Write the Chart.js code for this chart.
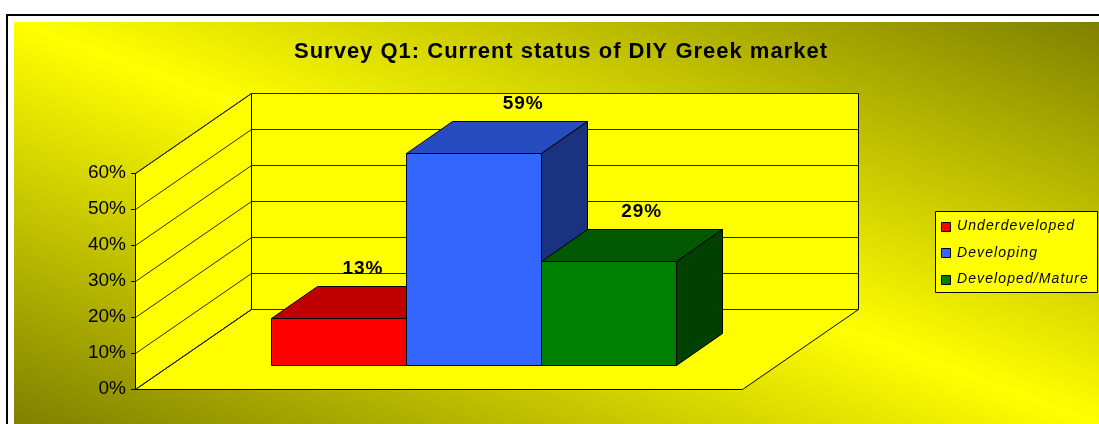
<!DOCTYPE html>
<html>
<head>
<meta charset="utf-8">
<script src="https://cdn.jsdelivr.net/npm/chart.js@4"></script>
<style>
  html, body { margin: 0; padding: 0; background: #fff; }
  canvas { display: block; }
</style>
</head>
<body>
<canvas id="chart" width="1099" height="424"></canvas>
<script>
const chartTitle = 'Survey Q1: Current status of DIY Greek market';
const seriesNames = ['Underdeveloped', 'Developing', 'Developed/Mature'];
const seriesValues = [13, 59, 29];
const yTicks = [0, 10, 20, 30, 40, 50, 60];

const frontColors = ['#FF0000', '#3366FF', '#008000'];
const topColors = ['#C00000', '#264CBF', '#005800'];
const sideColors = ['#800000', '#1A3380', '#004000'];

// offset of the back wall from the front plane, and the depth band the bars occupy
const DEPTH_X = 116, DEPTH_Y = -80;
const BAR_NEAR = 0.3, BAR_FAR = 0.7;

const FONT = '"Liberation Sans", Arial, sans-serif';

function px(v) { return Math.round(v) + 0.5; }

function poly(ctx, pts, fill, stroke) {
  ctx.beginPath();
  ctx.moveTo(pts[0][0], pts[0][1]);
  for (let i = 1; i < pts.length; i++) ctx.lineTo(pts[i][0], pts[i][1]);
  ctx.closePath();
  if (fill) { ctx.fillStyle = fill; ctx.fill(); }
  if (stroke) { ctx.strokeStyle = stroke; ctx.lineWidth = 1; ctx.stroke(); }
}

const scene3d = {
  id: 'scene3d',
  beforeDraw(chart) {
    const ctx = chart.ctx;
    const a = chart.chartArea;
    const yScale = chart.scales.y;
    const W = chart.width, H = chart.height;

    ctx.save();
    ctx.fillStyle = '#fff';
    ctx.fillRect(0, 0, W, H);

    // outer frame
    ctx.strokeStyle = '#000';
    ctx.lineWidth = 2;
    ctx.strokeRect(7, 15, W + 20, H + 20);

    // diagonal olive/yellow/olive fill behind everything
    const gx = 14, gy = 22, gw = W - gx, gh = H - gy;
    ctx.save();
    ctx.translate(gx, gy);
    ctx.scale(gw, gh);
    const g = ctx.createLinearGradient(0, 1, 1, 0);
    g.addColorStop(0, '#808000');
    g.addColorStop(0.5, '#FFFF00');
    g.addColorStop(1, '#808000');
    ctx.fillStyle = g;
    ctx.fillRect(0, 0, 1, 1);
    ctx.restore();

    const L = a.left, R = a.right, T = a.top, B = a.bottom;
    const dx = DEPTH_X, dy = DEPTH_Y;

    // side wall, back wall, floor
    poly(ctx, [[px(L), px(T)], [px(L + dx), px(T + dy)], [px(L + dx), px(B + dy)], [px(L), px(B)]], '#FFFF00', '#000');
    poly(ctx, [[px(L + dx), px(T + dy)], [px(R + dx), px(T + dy)], [px(R + dx), px(B + dy)], [px(L + dx), px(B + dy)]], '#FFFF00', '#000');
    poly(ctx, [[px(L), px(B)], [px(R), px(B)], [px(R + dx), px(B + dy)], [px(L + dx), px(B + dy)]], '#FFFF00', '#000');

    // gridlines running along the side wall and across the back wall
    ctx.strokeStyle = '#2a2a00';
    ctx.lineWidth = 1;
    yTicks.forEach(v => {
      const y = yScale.getPixelForValue(v);
      ctx.beginPath();
      ctx.moveTo(px(L), px(y));
      ctx.lineTo(px(L + dx), px(y + dy));
      ctx.lineTo(px(R + dx), px(y + dy));
      ctx.stroke();
    });
    ctx.restore();
  },

  beforeDatasetsDraw(chart) {
    const ctx = chart.ctx;
    const nx = DEPTH_X * BAR_NEAR, ny = DEPTH_Y * BAR_NEAR;
    const fx = DEPTH_X * BAR_FAR, fy = DEPTH_Y * BAR_FAR;
    ctx.save();
    ctx.lineJoin = 'miter';
    chart.data.datasets.forEach((ds, i) => {
      const el = chart.getDatasetMeta(i).data[0];
      const l = el.x - el.width / 2 + nx, r = el.x + el.width / 2 + nx;
      const t = el.y + ny, b = el.base + ny;
      const ox = fx - nx, oy = fy - ny;
      // front face
      poly(ctx, [[px(l), px(t)], [px(r), px(t)], [px(r), px(b)], [px(l), px(b)]], frontColors[i], '#000');
      // top face
      poly(ctx, [[px(l), px(t)], [px(l + ox), px(t + oy)], [px(r + ox), px(t + oy)], [px(r), px(t)]], topColors[i], '#000');
      // right side face
      poly(ctx, [[px(r), px(t)], [px(r + ox), px(t + oy)], [px(r + ox), px(b + oy)], [px(r), px(b)]], sideColors[i], '#000');
    });

    // value labels above each bar; taller bars push the label a little to the right
    ctx.fillStyle = '#000';
    ctx.font = 'bold 19px ' + FONT;
    ctx.letterSpacing = '1px';
    ctx.textAlign = 'center';
    ctx.textBaseline = 'middle';
    chart.data.datasets.forEach((ds, i) => {
      const el = chart.getDatasetMeta(i).data[0];
      const v = ds.data[0];
      const cx = el.x + (nx + fx) / 2 + 8 + (v - 25) * 0.55;
      const cy = el.y + (ny + fy) / 2 - 33;
      ctx.fillText(v + '%', cx, cy);
    });
    ctx.restore();
    return false;
  },

  afterDraw(chart) {
    const ctx = chart.ctx;
    ctx.save();
    // title
    ctx.fillStyle = '#000';
    ctx.font = 'bold 22px ' + FONT;
    ctx.letterSpacing = '1px';
    ctx.textAlign = 'center';
    ctx.textBaseline = 'alphabetic';
    ctx.fillText(chartTitle, 561, 58);

    // legend box
    ctx.letterSpacing = '1.1px';
    poly(ctx, [[935.5, 211.5], [1097.5, 211.5], [1097.5, 292.5], [935.5, 292.5]], '#FFFF00', '#000');
    ctx.font = 'italic 14px ' + FONT;
    ctx.textAlign = 'left';
    ctx.textBaseline = 'middle';
    seriesNames.forEach((name, i) => {
      const cy = 225.5 + i * 26.5;
      const top = Math.round(cy - 4) + 0.5, bottom = Math.round(cy + 5) + 0.5;
      poly(ctx, [[941.5, top], [950.5, top], [950.5, bottom], [941.5, bottom]], frontColors[i], '#000');
      ctx.fillStyle = '#000';
      ctx.fillText(name, 957, cy + 1);
    });
    ctx.restore();
  }
};

new Chart(document.getElementById('chart'), {
  type: 'bar',
  data: {
    labels: [''],
    datasets: seriesNames.map((name, i) => ({
      label: name,
      data: [seriesValues[i]],
      backgroundColor: frontColors[i]
    }))
  },
  options: {
    responsive: false,
    animation: false,
    devicePixelRatio: 1,
    layout: { padding: { top: 173, bottom: 35, left: 0, right: 357 } },
    datasets: { bar: { categoryPercentage: 405 / 607, barPercentage: 1 } },
    scales: {
      x: { display: false },
      y: {
        min: 0,
        max: 60,
        afterFit(scale) { scale.width = 135; },
        ticks: {
          stepSize: 10,
          padding: 5,
          color: '#000',
          font: { family: FONT, size: 19 },
          callback: v => v + '%'
        },
        grid: { drawOnChartArea: false, drawTicks: true, tickLength: 4, color: '#000' },
        border: { display: true, color: '#000', width: 1 }
      }
    },
    plugins: {
      legend: { display: false },
      title: { display: false },
      tooltip: { enabled: false }
    }
  },
  plugins: [scene3d]
});
</script>
</body>
</html>
